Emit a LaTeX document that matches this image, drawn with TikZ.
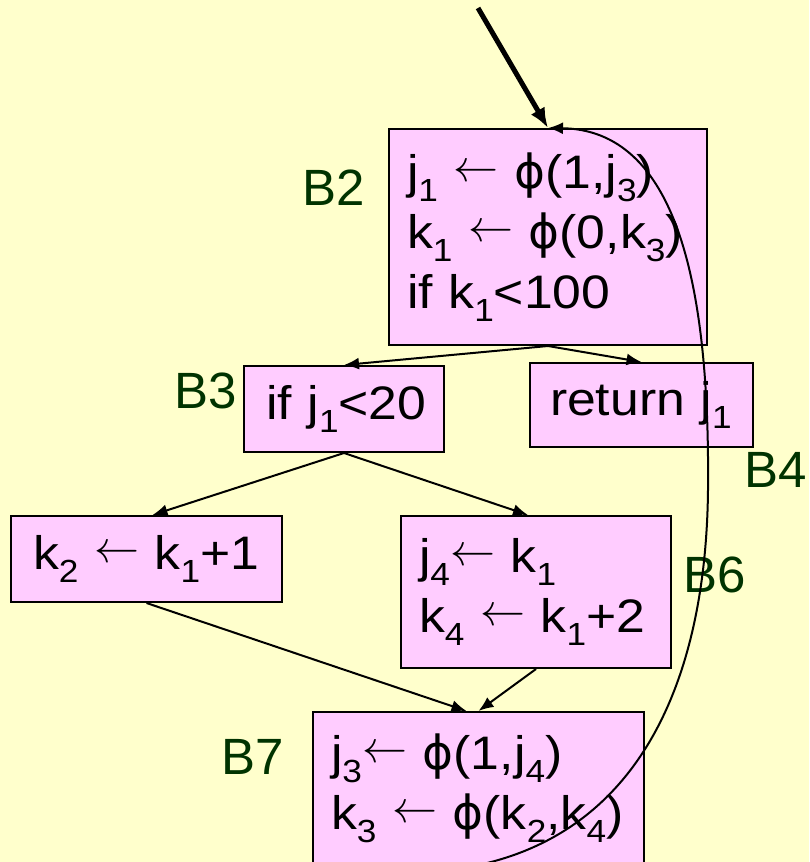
\documentclass[tikz,border=0pt]{standalone}
\usepackage{fontspec}
\usepackage{graphicx}
\setmainfont{Liberation Sans}
\newfontfamily\boxfont[FakeStretch=1.1]{Liberation Sans}
\newfontfamily\djv{DejaVu Sans}
\usetikzlibrary{arrows.meta}
\definecolor{bgc}{HTML}{FFFFCC}
\definecolor{boxfill}{HTML}{FFCCFF}
\definecolor{labc}{HTML}{003300}
\newcommand\sbx[1]{\raisebox{-0.28em}{\fontsize{32}{32}\selectfont #1}}
\newcommand\la{\raisebox{7pt}{\scalebox{4.5}{\fontsize{10}{12}\selectfont$\leftarrow$}}}
\newcommand\fy{{\djv\symbol{"03D5}}}
\begin{document}
\begin{tikzpicture}[x=1pt,y=-1pt,
  blk/.style={draw=black, line width=2pt, fill=boxfill, anchor=north west,
    align=left, inner ysep=0pt, font=\boxfont\fontsize{47}{60}\selectfont},
  lbl/.style={text=labc, font=\fontsize{51}{51}\selectfont, anchor=base east, inner sep=0pt},
  edge/.style={line width=2pt, -{Latex[length=15pt,width=12pt]}}]
\fill[bgc] (0,0) rectangle (809,862);
\useasboundingbox (0,0) rectangle (809,862);

\node[blk, inner xsep=18pt, text width=282pt, minimum height=216pt] (b2) at (388,128)
  {j\sbx{1}~\la~\fy(1,j\sbx{3})\\k\sbx{1}~\la~\fy(0,k\sbx{3})\\if~k\sbx{1}<100};
\node[blk, inner xsep=22pt, text width=156pt, minimum height=86pt] (b3) at (243,365)
  {if~j\sbx{1}<20};
\node[blk, inner xsep=20pt, text width=183pt, minimum height=84pt] (b4) at (529,362)
  {return~j\sbx{1}};
\node[blk, inner xsep=22pt, text width=227pt, minimum height=86pt] (b5) at (10,515)
  {k\sbx{2}~\la~k\sbx{1}+1};
\node[blk, inner xsep=18pt, text width=234pt, minimum height=152pt] (b6) at (400,515)
  {j\sbx{4}\la~k\sbx{1}\\k\sbx{4}~\la~k\sbx{1}+2};
\node[blk, inner xsep=18pt, text width=295pt, minimum height=152pt] (b7) at (312,711)
  {j\sbx{3}\la~\fy(1,j\sbx{4})\\k\sbx{3}~\la~\fy(k\sbx{2},k\sbx{4})};

\node[lbl] (l2) at (365,205) {B2};
\node[lbl] (l3) at (237,408) {B3};
\node[lbl] (l4) at (807,487) {B4};
\node[lbl] (l6) at (746,592) {B6};
\node[lbl] (l7) at (284,774) {B7};

\coordinate (entry) at (478,8);
\draw[line width=5pt, -{Latex[length=20pt,width=16pt]}] (entry) -- (b2.north);
\draw[edge] (b7.south) .. controls (640,830) and (706,680) .. (708,490)
  .. controls (710,280) and (675,130) .. (b2.north);
\draw[edge] (b2.south) -- (b3.north);
\draw[edge] (b2.south) -- (b4.north);
\draw[edge] (b3.south) -- ([xshift=6pt]b5.north);
\draw[edge] (b3.south) -- ([xshift=-8pt]b6.north);
\draw[edge] (b5.south) -- ([xshift=-12pt]b7.north);
\draw[edge] (b6.south) -- (b7.north);
\end{tikzpicture}
\end{document}
